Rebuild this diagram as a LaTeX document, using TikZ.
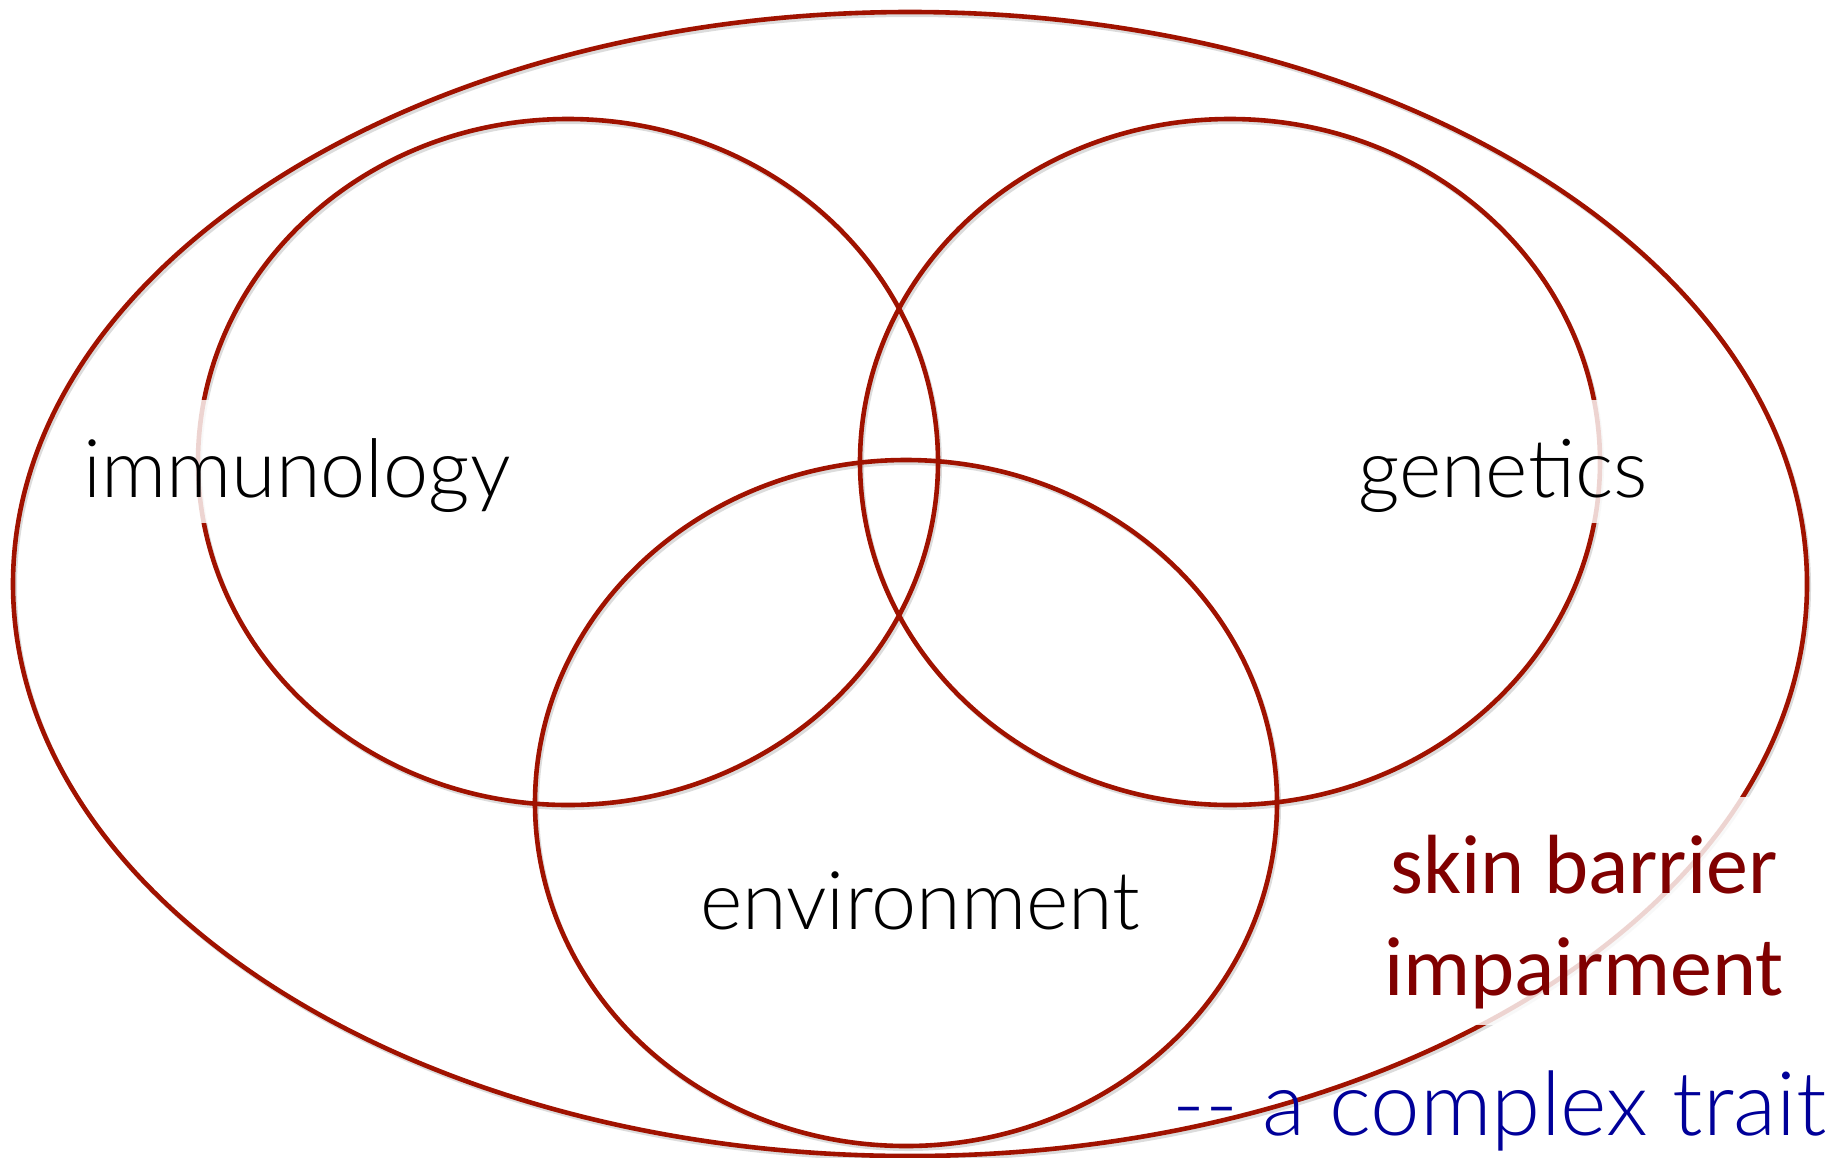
\documentclass[tikz,border=0pt]{standalone}
\usepackage{fontspec}
\setmainfont{Carlito}
\newfontfamily\lightfont{Lato Light}
\definecolor{ring}{RGB}{160,18,0}
\definecolor{darkred}{RGB}{128,0,0}
\definecolor{navy}{RGB}{0,0,153}
\begin{document}
\begin{tikzpicture}[x=1pt,y=-1pt,
  ringline/.style={draw=ring,line width=4.6pt},
  ringshadow/.style={draw=black!30,line width=4pt,opacity=0.45},
  lbl/.style={font=\lightfont\fontsize{81}{96}\selectfont,text=black,inner sep=0pt},
  veil/.style={fill=white,fill opacity=0.82,text opacity=1},
  sbi/.style={font=\fontsize{84}{102}\selectfont,text=darkred,inner xsep=0pt,inner ysep=0pt,minimum width=440pt,veil}]
\useasboundingbox (0,0) rectangle (1843,1157);
% shadows
\draw[ringshadow] (912,587) ellipse [x radius=897, y radius=572];
\draw[ringshadow] (570,465) ellipse [x radius=370, y radius=343];
\draw[ringshadow] (1232,465) ellipse [x radius=370, y radius=343];
\draw[ringshadow] (908,806) ellipse [x radius=371, y radius=343];
% rings
\draw[ringline] (910,584) ellipse [x radius=897, y radius=572];
\draw[ringline] (568,462) ellipse [x radius=370, y radius=343];
\draw[ringline] (1230,462) ellipse [x radius=370, y radius=343];
\draw[ringline] (906,803) ellipse [x radius=371, y radius=343];
% labels
\node[lbl,veil,anchor=base west,text height=97pt,text depth=26pt,inner xsep=12pt] (imm) at (71,497) {immunology};
\node[lbl,veil,anchor=base west,text height=97pt,text depth=26pt,inner xsep=12pt] (gen) at (1346,497) {genetics};
\node[lbl,anchor=base west] (env) at (700,929) {environment};
\node[sbi,anchor=base,text height=96pt,text depth=51pt] (skin) at (1584,893) {skin barrier};
\node[sbi,anchor=base,text height=51pt,text depth=30pt] (imp) at (1584,995) {impairment};
\node[font=\lightfont\fontsize{89}{100}\selectfont,text=navy,inner sep=0pt,anchor=base east] (trait) at (1827,1135) {-{}- a complex trait};
\end{tikzpicture}
\end{document}
